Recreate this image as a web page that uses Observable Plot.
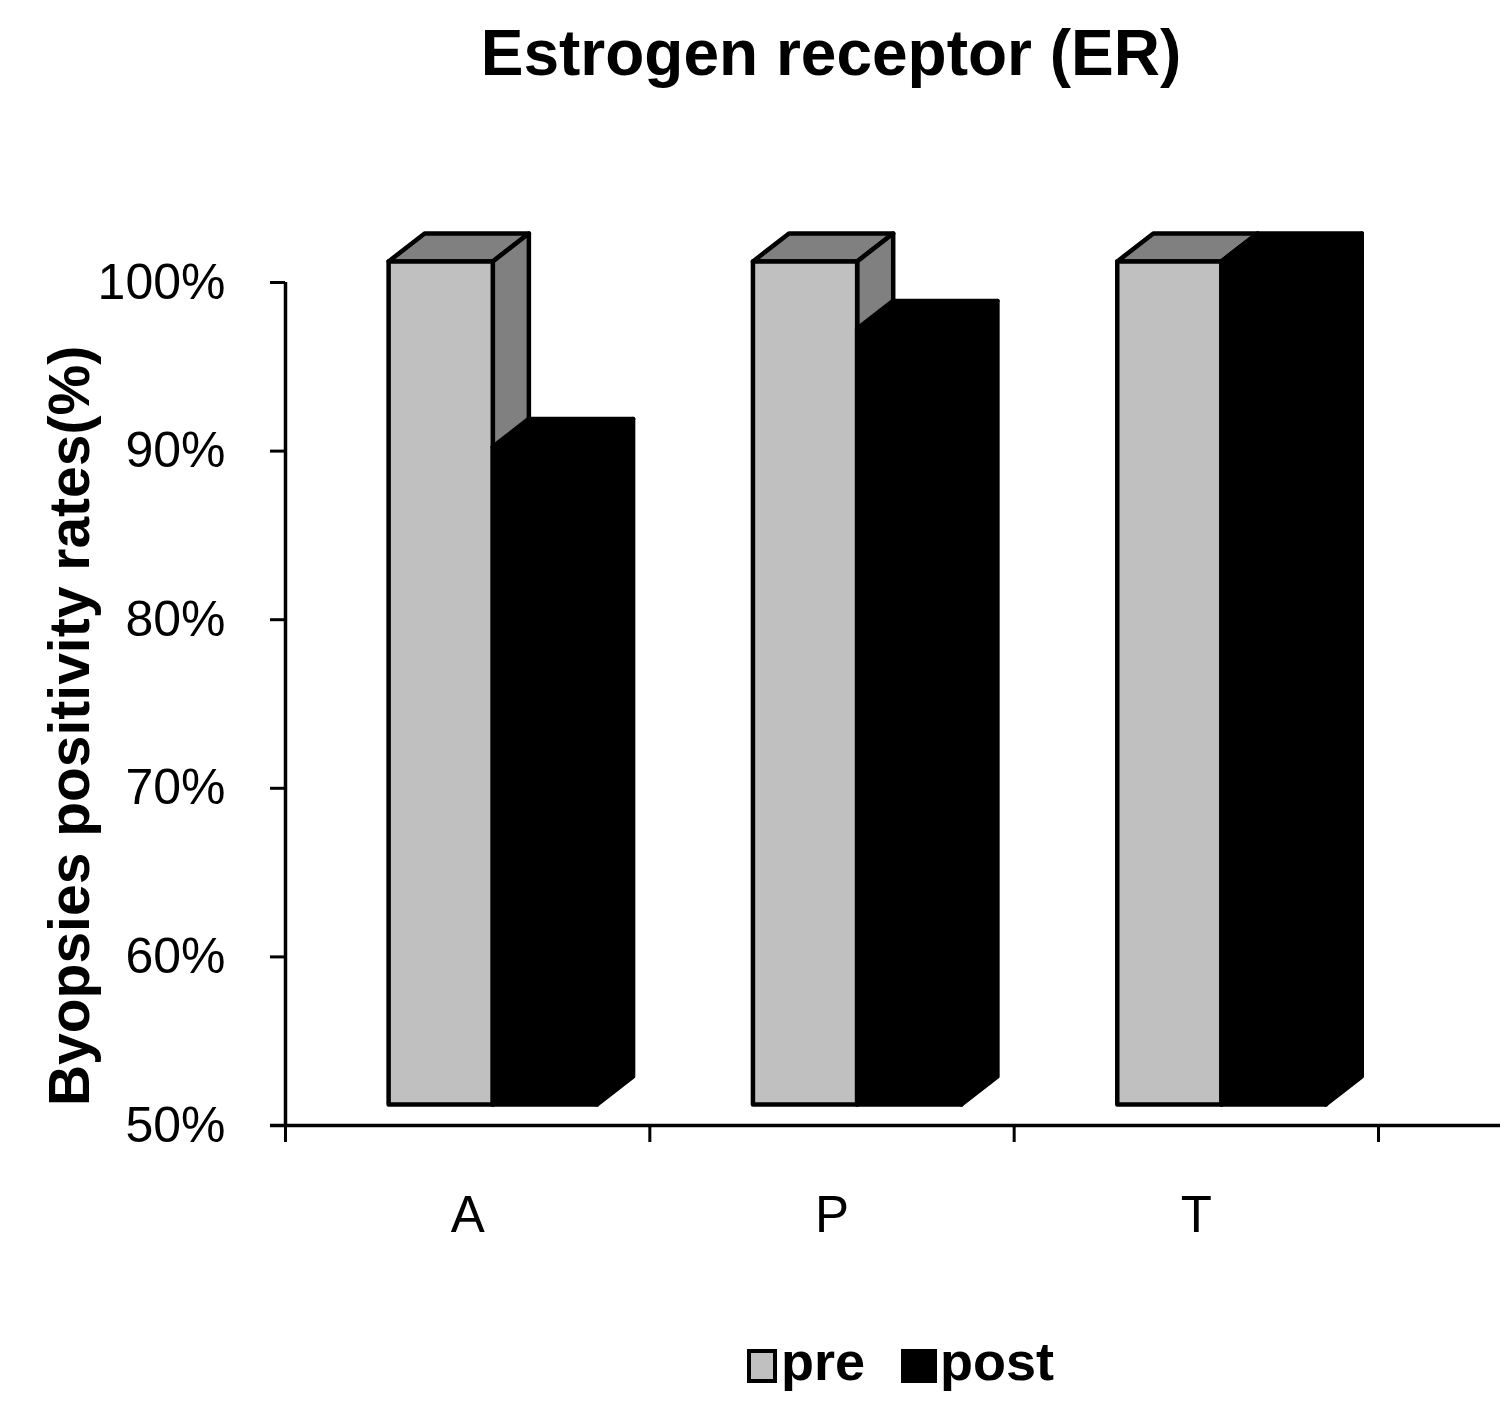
<!DOCTYPE html>
<html>
<head>
<meta charset="utf-8">
<script src="https://cdn.jsdelivr.net/npm/d3@7"></script>
<script src="https://cdn.jsdelivr.net/npm/@observablehq/plot@0.6"></script>
<style>
  html, body { margin: 0; padding: 0; background: #fff; }
  body { width: 1500px; font-family: "Liberation Sans", Arial, sans-serif; }
  #title { box-sizing: border-box; width: 1500px; height: 110px; padding-top: 21px; padding-left: 162px;
           text-align: center; font-size: 64px; font-weight: bold; line-height: 64px; color: #000; }
  #chart svg { display: block; overflow: visible; }
  #legend { box-sizing: border-box; width: 1500px; height: 122px; padding-top: 45px; padding-left: 747px;
            display: flex; align-items: flex-start; font-size: 54px; font-weight: bold; line-height: 52px; }
  .sw { box-sizing: border-box; margin-top: 14px; }
</style>
</head>
<body>
<div id="title"></div>
<div id="chart"></div>
<div id="legend"></div>
<script>
// ---- data ----
const titleText = "Estrogen receptor (ER)";
const yLabel = "Byopsies positivity rates(%)";
const categories = ["A", "P", "T"];
const seriesNames = ["pre", "post"];
const preValues = [100, 100, 100];
const postValues = [89, 96, 100];
const yTicks = [50, 60, 70, 80, 90, 100];

// ---- style / geometry constants (3D look) ----
const BASE = 50;        // axis baseline
const LIFT = 1.25;      // front face raised above floor (y units)
const DEPTH_X = 0.099;  // depth offset (x units)
const DEPTH_Y = 1.66;   // depth offset (y units)
const BAR_W = 0.286;    // bar width (x units)
const START = 0.283;    // first bar offset inside a category
const colors = {pre: {front: "#c0c0c0", back: "#808080"}, post: {front: "#000", back: "#000"}};

function barFaces(i, s, v, name) {
  const x0 = i + START + s * BAR_W, x1 = x0 + BAR_W;
  const yb = BASE + LIFT, yt = v + LIFT;
  const id = name + i;
  const front = [[x0, yb], [x1, yb], [x1, yt], [x0, yt], [x0, yb]];
  const top = [[x0, yt], [x1, yt], [x1 + DEPTH_X, yt + DEPTH_Y], [x0 + DEPTH_X, yt + DEPTH_Y], [x0, yt]];
  const side = [[x1, yb], [x1 + DEPTH_X, yb + DEPTH_Y], [x1 + DEPTH_X, yt + DEPTH_Y], [x1, yt], [x1, yb]];
  return {
    front: front.map(([x, y]) => ({x, y, id: id + "f"})),
    back: [...top.map(([x, y]) => ({x, y, id: id + "t"})), ...side.map(([x, y]) => ({x, y, id: id + "s"}))]
  };
}

const preF = categories.map((c, i) => barFaces(i, 0, preValues[i], "pre"));
const postF = categories.map((c, i) => barFaces(i, 1, postValues[i], "post"));
const preBack = preF.flatMap(d => d.back), preFront = preF.flatMap(d => d.front);
const postBack = postF.flatMap(d => d.back), postFront = postF.flatMap(d => d.front);

const faceOpts = (fill) => ({x: "x", y: "y", z: "id", fill, stroke: "#000", strokeWidth: 4.5, strokeLinejoin: "round"});

document.getElementById("title").textContent = titleText;

const plot = Plot.plot({
  width: 1500,
  height: 1180,
  marginTop: 172,
  marginLeft: 285,
  marginRight: 122,
  marginBottom: 165,
  style: {fontFamily: "'Liberation Sans', Arial, sans-serif", color: "#000", background: "#fff", overflow: "visible"},
  x: {domain: [0, categories.length]},
  y: {domain: [50, 100]},
  marks: [
    Plot.line(preBack, faceOpts(colors.pre.back)),
    Plot.line(preFront, faceOpts(colors.pre.front)),
    Plot.line(postBack, faceOpts(colors.post.back)),
    Plot.line(postFront, faceOpts(colors.post.front)),
    Plot.ruleX([0], {y1: 50, y2: 100, strokeWidth: 3.5}),
    Plot.ruleY([50], {insetLeft: -15, insetRight: -122, strokeWidth: 3.5}),
    Plot.axisY(yTicks, {tickSize: 15, tickPadding: 45, tickFormat: d => d + "%", fontSize: 50, strokeWidth: 3, label: null}),
    Plot.axisX(d3.range(categories.length + 1), {tickSize: 17, tickFormat: () => "", strokeWidth: 3, label: null}),
    Plot.axisX(categories.map((c, i) => i + 0.5), {tickSize: 0, tickPadding: 70, tickFormat: d => categories[Math.floor(d)], fontSize: 51, label: null}),
    Plot.text([yLabel], {frameAnchor: "left", textAnchor: "middle", rotate: -90, dx: -215, dy: 22, fontSize: 57, fontWeight: "bold", text: d => d})
  ]
});
document.getElementById("chart").appendChild(plot);

// legend
const legend = document.getElementById("legend");
seriesNames.forEach((name, k) => {
  const sw = document.createElement("div");
  sw.className = "sw";
  if (k === 0) {
    sw.style.cssText = "width:30px;height:34px;border:4px solid #000;background:" + colors.pre.front + ";margin-right:4px;";
  } else {
    sw.style.cssText = "width:36px;height:34px;background:#000;margin-left:36px;margin-right:3px;";
  }
  const t = document.createElement("span");
  t.textContent = name;
  legend.appendChild(sw);
  legend.appendChild(t);
});
</script>
</body>
</html>
